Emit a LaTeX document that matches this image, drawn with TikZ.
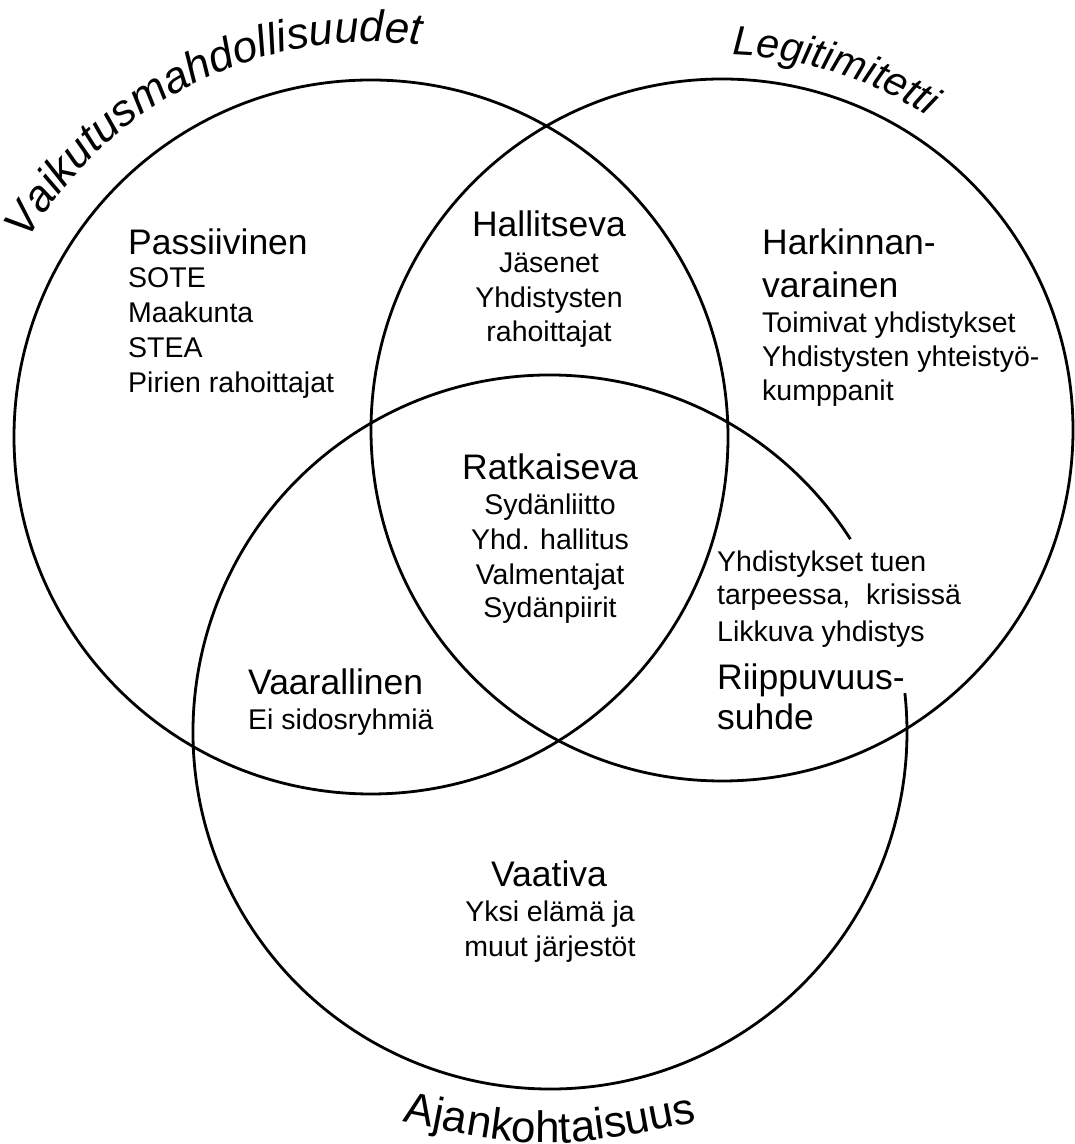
\documentclass[tikz,border=0pt]{standalone}
\usepackage{fontspec}
\setmainfont{Liberation Sans}
\usetikzlibrary{decorations.text,calc}
\tikzset{
  ring/.style={line width=2.8pt, draw=black},
  ttl/.style={font=\fontsize{35.5}{35.5}\selectfont, inner sep=0pt},
  bdy/.style={font=\fontsize{28.5}{28.5}\selectfont, inner sep=0pt},
  lw/.style={anchor=base west},
  lc/.style={anchor=base},
}
\newcommand\lblfontit{\fontsize{44}{44}\selectfont\itshape}
\newcommand\lblfontitb{\fontsize{41}{41}\selectfont\itshape}
\newcommand\lblfontup{\fontsize{44}{44}\selectfont}
\begin{document}
\begin{tikzpicture}[x=1pt,y=1pt]
\useasboundingbox (0,0) rectangle (1075,1144);
\fill[white] (0,0) rectangle (1075,1144);
\coordinate (cL) at (371,707);
\coordinate (cR) at (722,714);
\coordinate (cB) at (550,412);
\draw[ring] (cL) circle[radius=357pt];
\draw[ring] (cR) circle[radius=351pt];
\draw[ring] ($(cB)+(32.7:357pt)$) arc[start angle=32.7,end angle=366.25,radius=357pt];

% circle labels
\path[decorate,decoration={text along path,text align=center,text={|\lblfontit|Vaikutusmahdollisuudet}}]
  ($(cL)+(165:395pt)$) arc[start angle=165,end angle=68,radius=395pt];
\path[decorate,decoration={text along path,text align=center,text={|\lblfontitb|Legitimitetti}}]
  ($(cR)+(100:375pt)$) arc[start angle=100,end angle=45,radius=375pt];
\path[decorate,decoration={text along path,text align=center,text={|\lblfontup|Ajankohtaisuus}}]
  (380,26.7) .. controls (550,-7.7) .. (720,26.7);

% Passiivinen
\node[ttl,lw] (pas) at (128,889) {Passiivinen};
\node[bdy,lw] (pas1) at (128,856) {SOTE};
\node[bdy,lw] (pas2) at (128,821) {Maakunta};
\node[bdy,lw] (pas3) at (128,786) {STEA};
\node[bdy,lw] (pas4) at (128,751) {Pirien rahoittajat};

% Hallitseva
\node[ttl,lc] (hal) at (549,907) {Hallitseva};
\node[bdy,lc] (hal1) at (549,871) {Jäsenet};
\node[bdy,lc] (hal2) at (549,836) {Yhdistysten};
\node[bdy,lc] (hal3) at (549,802) {rahoittajat};

% Harkinnanvarainen
\node[ttl,lw] (har) at (762,889) {Harkinnan-};
\node[ttl,lw] (har0) at (762,846) {varainen};
\node[bdy,lw] (har1) at (762,811) {Toimivat yhdistykset};
\node[bdy,lw] (har2) at (762,777) {Yhdistysten yhteistyö-};
\node[bdy,lw] (har3) at (762,743) {kumppanit};

% Ratkaiseva
\node[ttl,lc] (rat) at (550,664) {Ratkaiseva};
\node[bdy,lc] (rat1) at (550,629) {Sydänliitto};
\node[bdy,lc] (rat2) at (550,594) {Yhd. hallitus};
\node[bdy,lc] (rat3) at (550,559) {Valmentajat};
\node[bdy,lc] (rat4) at (550,526) {Sydänpiirit};

% Vaarallinen
\node[ttl,lw] (vaa) at (248,449) {Vaarallinen};
\node[bdy,lw] (vaa1) at (248,414) {Ei sidosryhmiä};

% Riippuvuussuhde
\node[bdy,lw] (rii1) at (717,572) {Yhdistykset tuen};
\node[bdy,lw] (rii2) at (717,539) {tarpeessa,\ \ krisissä};
\node[bdy,lw] (rii3) at (717,502) {Likkuva yhdistys};
\node[ttl,lw] (rii) at (717,454) {Riippuvuus-};
\node[ttl,lw] (rii0) at (717,414) {suhde};

% Vaativa
\node[ttl,lc] (vat) at (549,257) {Vaativa};
\node[bdy,lc] (vat1) at (550,222) {Yksi elämä ja};
\node[bdy,lc] (vat2) at (550,187) {muut järjestöt};
\end{tikzpicture}
\end{document}
